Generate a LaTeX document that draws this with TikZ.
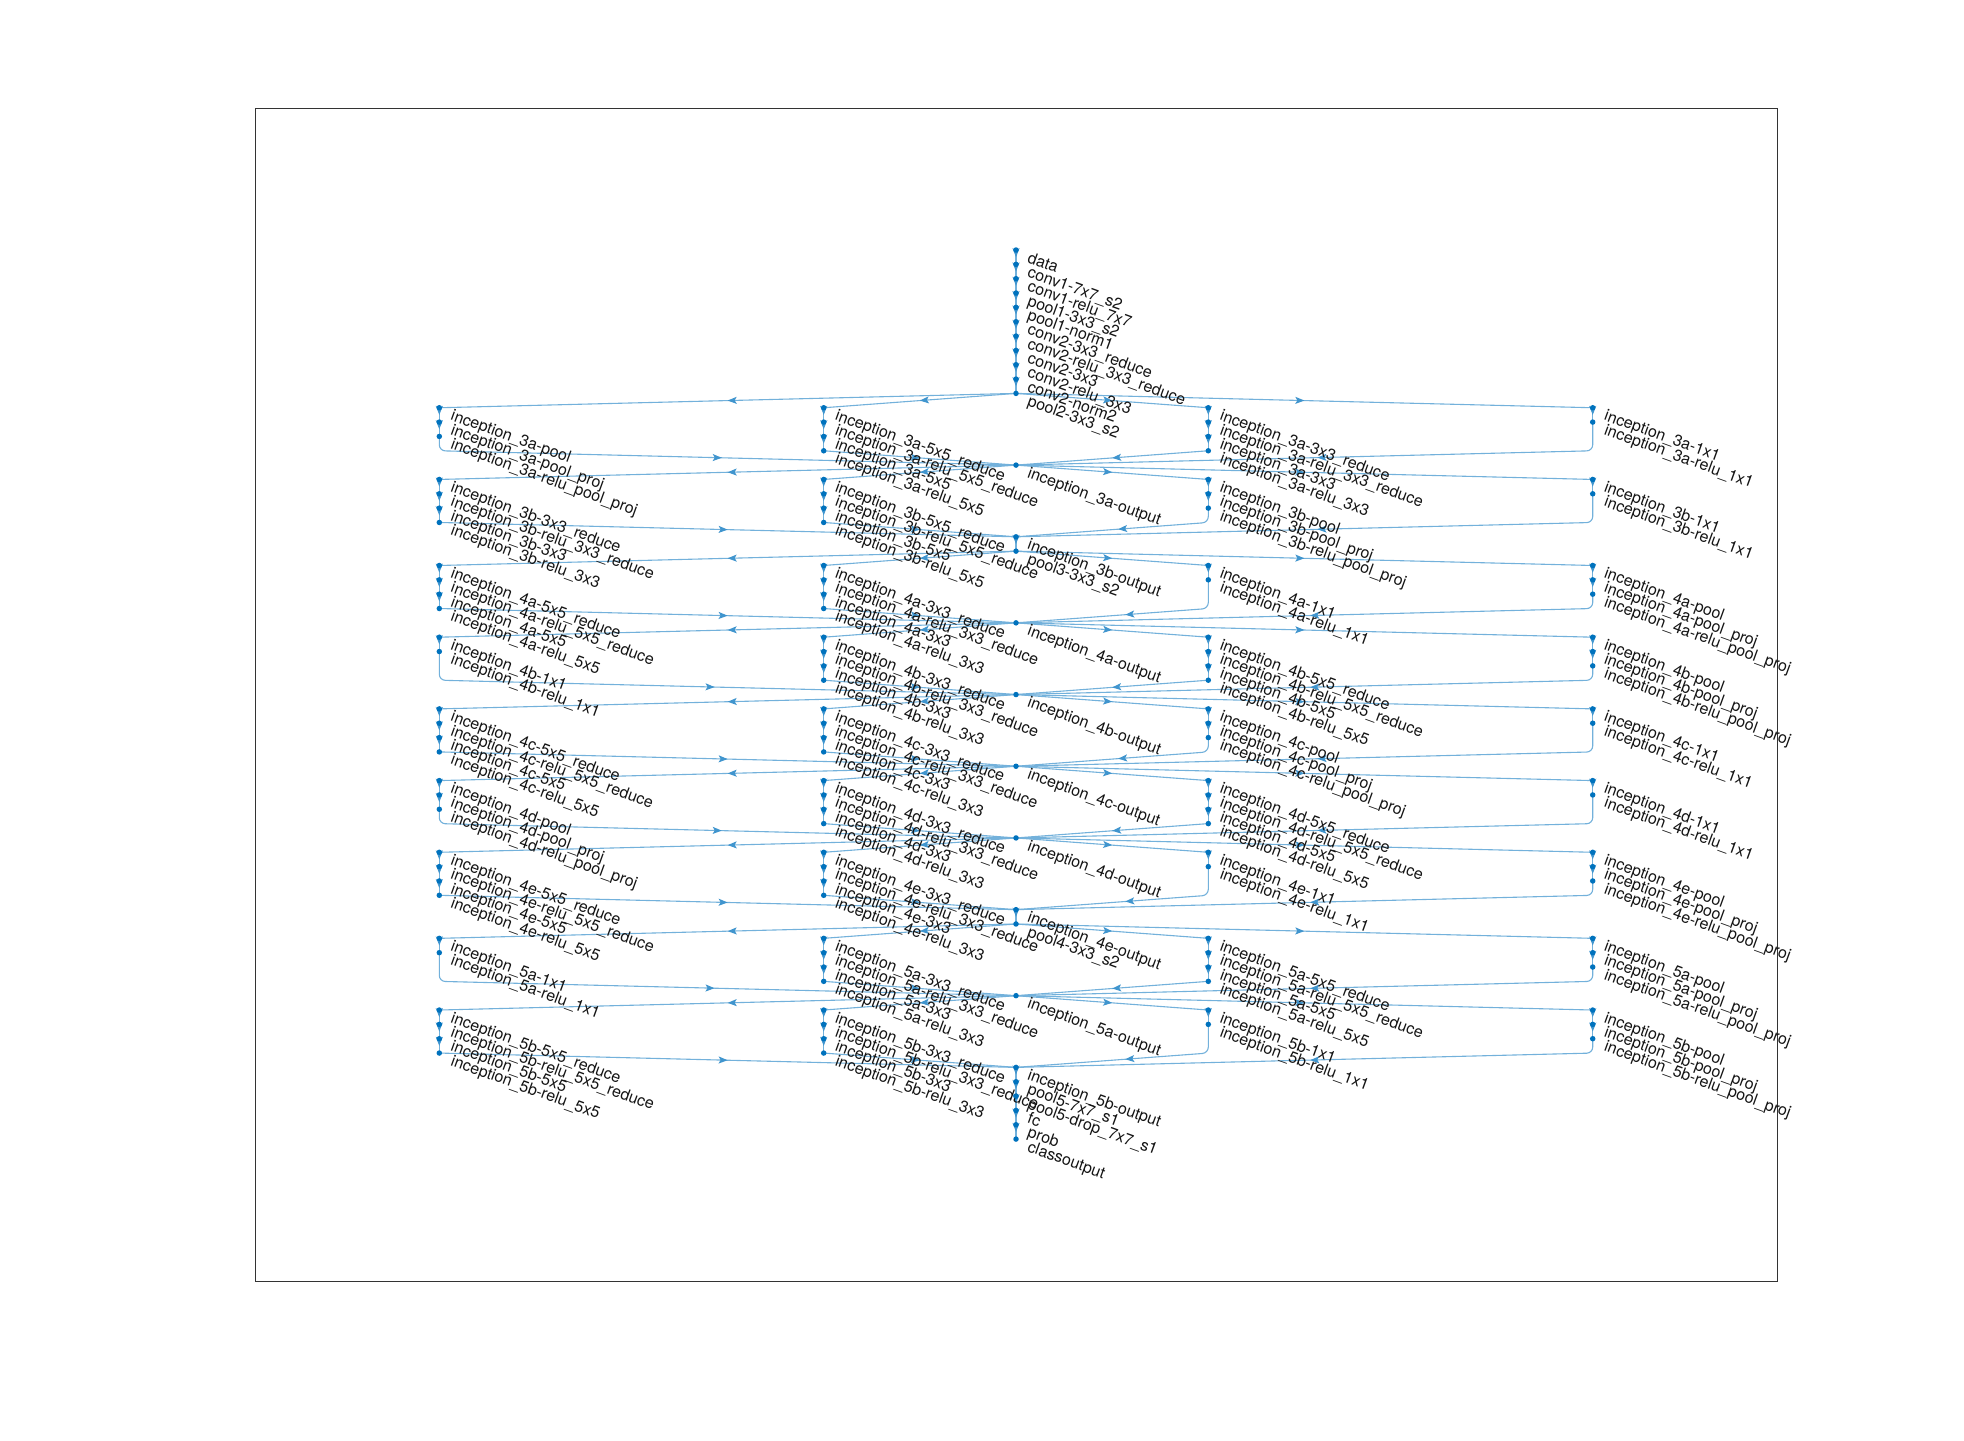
\documentclass[tikz,border=0pt]{standalone}
\usepackage{fontspec}
\setmainfont{TeX Gyre Heros}
\usetikzlibrary{arrows.meta,decorations.markings}
\pgfdeclarelayer{bg}
\pgfsetlayers{bg,main}
\definecolor{mblue}{RGB}{0,114,189}
\colorlet{eblue}{mblue!55!white}
\colorlet{tipblue}{mblue!75!white}
\colorlet{ink}{black!92}

% vertical position of a layer (pixels, downwards)
\newcommand{\yl}[1]{250+(#1-1)*14.34}
% a graph node: marker plus rotated label
\newcommand{\lay}[4]{%
  \node[gdot] (#1) at ({#2},{\yl{#3}}) {};
  \node[glabel] (#1-t) at ([shift={(10.5,12)}]#1.center) {#4};
}
% straight connector
\newcommand{\link}[2]{\begin{pgfonlayer}{bg}\draw[gedge] (#1.center) -- (#2.center);\end{pgfonlayer}}
% connector that runs down its column first, then to the target
\newcommand{\linkbend}[4]{\begin{pgfonlayer}{bg}\draw[gedge,rounded corners=6pt] (#1.center) -- ({#3},{\yl{#4}}) -- (#2.center);\end{pgfonlayer}}

% inception branches: id, x, first layer, input node, output node
\newcommand{\brone}[5]{%
  \lay{i#1-1a}{#2}{#3}{inception\_#1-1x1}
  \lay{i#1-1b}{#2}{#3+1}{inception\_#1-relu\_1x1}
  \link{#4}{i#1-1a}\link{i#1-1a}{i#1-1b}\linkbend{i#1-1b}{#5}{#2}{#3+3}}
\newcommand{\brthree}[5]{%
  \lay{i#1-3a}{#2}{#3}{inception\_#1-3x3\_reduce}
  \lay{i#1-3b}{#2}{#3+1}{inception\_#1-relu\_3x3\_reduce}
  \lay{i#1-3c}{#2}{#3+2}{inception\_#1-3x3}
  \lay{i#1-3d}{#2}{#3+3}{inception\_#1-relu\_3x3}
  \link{#4}{i#1-3a}\link{i#1-3a}{i#1-3b}\link{i#1-3b}{i#1-3c}\link{i#1-3c}{i#1-3d}\link{i#1-3d}{#5}}
\newcommand{\brfive}[5]{%
  \lay{i#1-5a}{#2}{#3}{inception\_#1-5x5\_reduce}
  \lay{i#1-5b}{#2}{#3+1}{inception\_#1-relu\_5x5\_reduce}
  \lay{i#1-5c}{#2}{#3+2}{inception\_#1-5x5}
  \lay{i#1-5d}{#2}{#3+3}{inception\_#1-relu\_5x5}
  \link{#4}{i#1-5a}\link{i#1-5a}{i#1-5b}\link{i#1-5b}{i#1-5c}\link{i#1-5c}{i#1-5d}\link{i#1-5d}{#5}}
\newcommand{\brpool}[5]{%
  \lay{i#1-pa}{#2}{#3}{inception\_#1-pool}
  \lay{i#1-pb}{#2}{#3+1}{inception\_#1-pool\_proj}
  \lay{i#1-pc}{#2}{#3+2}{inception\_#1-relu\_pool\_proj}
  \link{#4}{i#1-pa}\link{i#1-pa}{i#1-pb}\link{i#1-pb}{i#1-pc}\linkbend{i#1-pc}{#5}{#2}{#3+3}}

% a whole inception block: id, first layer, input node, branch kinds per column
\newcommand{\block}[7]{%
  \lay{i#1-out}{1016}{#2+4}{inception\_#1-output}
  \csname br#4\endcsname{#1}{439.3}{#2}{#3}{i#1-out}
  \csname br#5\endcsname{#1}{823.7}{#2}{#3}{i#1-out}
  \csname br#6\endcsname{#1}{1208.3}{#2}{#3}{i#1-out}
  \csname br#7\endcsname{#1}{1592.7}{#2}{#3}{i#1-out}}

\begin{document}
\begin{tikzpicture}[x=1pt,y=-1pt,
  gdot/.style={circle,fill=mblue,inner sep=0pt,minimum size=5.5pt},
  glabel/.style={anchor=base west,rotate=-20,inner sep=0pt,text=ink,
    font=\fontsize{16}{16}\selectfont},
  gedge/.style={draw=eblue,line width=1.1pt,postaction={decorate},
    decoration={markings,mark=at position 0.5 with
      {\arrow[tipblue]{Stealth[length=9pt,width=7pt,inset=2pt]}}}}]
\useasboundingbox (0,0) rectangle (1964,1440);
\begin{pgfonlayer}{bg}
\fill[white] (0,0) rectangle (1964,1440);
\end{pgfonlayer}
\draw[black!80,line width=0.9pt] (255.3,108) rectangle (1777.4,1281.6);

% stem
\lay{data}{1016}{1}{data}
\lay{c1}{1016}{2}{conv1-7x7\_s2}
\lay{c1r}{1016}{3}{conv1-relu\_7x7}
\lay{p1}{1016}{4}{pool1-3x3\_s2}
\lay{n1}{1016}{5}{pool1-norm1}
\lay{c2a}{1016}{6}{conv2-3x3\_reduce}
\lay{c2b}{1016}{7}{conv2-relu\_3x3\_reduce}
\lay{c2c}{1016}{8}{conv2-3x3}
\lay{c2d}{1016}{9}{conv2-relu\_3x3}
\lay{n2}{1016}{10}{conv2-norm2}
\lay{pool2}{1016}{11}{pool2-3x3\_s2}
\link{data}{c1}\link{c1}{c1r}\link{c1r}{p1}\link{p1}{n1}\link{n1}{c2a}
\link{c2a}{c2b}\link{c2b}{c2c}\link{c2c}{c2d}\link{c2d}{n2}\link{n2}{pool2}

% inception blocks
\block{3a}{12}{pool2}{pool}{five}{three}{one}
\block{3b}{17}{i3a-out}{three}{five}{pool}{one}
\lay{pool3}{1016}{22}{pool3-3x3\_s2}
\link{i3b-out}{pool3}
\block{4a}{23}{pool3}{five}{three}{one}{pool}
\block{4b}{28}{i4a-out}{one}{three}{five}{pool}
\block{4c}{33}{i4b-out}{five}{three}{pool}{one}
\block{4d}{38}{i4c-out}{pool}{three}{five}{one}
\block{4e}{43}{i4d-out}{five}{three}{one}{pool}
\lay{pool4}{1016}{48}{pool4-3x3\_s2}
\link{i4e-out}{pool4}
\block{5a}{49}{pool4}{one}{three}{five}{pool}
\block{5b}{54}{i5a-out}{five}{three}{one}{pool}

% head
\lay{pool5}{1016}{59}{pool5-7x7\_s1}
\lay{drop}{1016}{60}{pool5-drop\_7x7\_s1}
\lay{fc}{1016}{61}{fc}
\lay{prob}{1016}{62}{prob}
\lay{cls}{1016}{63}{classoutput}
\link{i5b-out}{pool5}\link{pool5}{drop}\link{drop}{fc}\link{fc}{prob}\link{prob}{cls}
\end{tikzpicture}
\end{document}
